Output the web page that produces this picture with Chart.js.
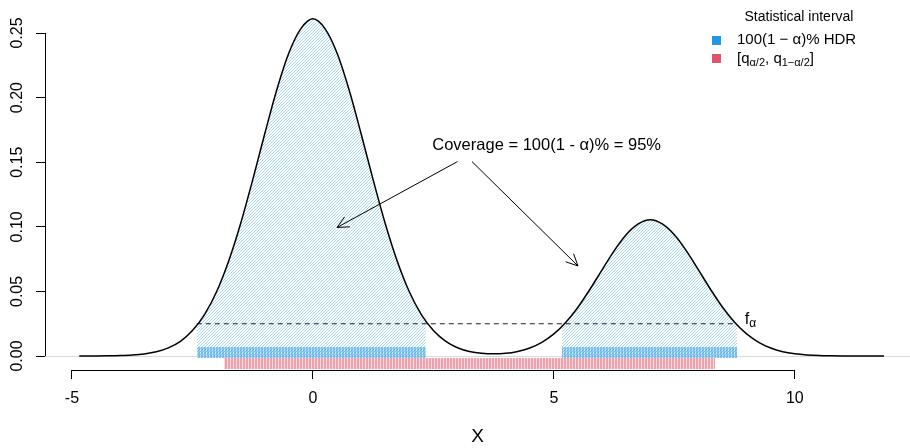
<!DOCTYPE html>
<html>
<head>
<meta charset="utf-8">
<script src="https://cdn.jsdelivr.net/npm/chart.js@4.4.1/dist/chart.umd.min.js"></script>
<style>
  html, body { margin: 0; padding: 0; background: #fff; }
  #wrap { width: 910px; height: 448px; }
</style>
</head>
<body>
<div id="wrap"><canvas id="chart" width="910" height="448"></canvas></div>
<script>
// density
const xGrid = [-4.85, -4.5, -4.25, -4, -3.75, -3.5, -3.25, -3, -2.75, -2.5, -2.25, -2, -1.75, -1.5,
  -1.25, -1, -0.75, -0.5, -0.25, 0, 0.25, 0.5, 0.75, 1, 1.25, 1.5, 1.75, 2, 2.25, 2.5, 2.75, 3,
  3.25, 3.5, 3.75, 4, 4.25, 4.5, 4.75, 5, 5.25, 5.5, 5.75, 6, 6.25, 6.5, 6.75, 7, 7.25, 7.5, 7.75,
  8, 8.25, 8.5, 8.75, 9, 9.25, 9.5, 9.75, 10, 10.25, 10.5, 10.75, 11, 11.5, 11.85];
const density = [0.00002, 0.00006, 0.00015, 0.00035, 0.00078, 0.00165, 0.0033, 0.0063, 0.0114,
  0.0197, 0.0321, 0.0498, 0.0734, 0.1026, 0.1363, 0.172, 0.2061, 0.2345, 0.2534, 0.261, 0.2534,
  0.2345, 0.2061, 0.172, 0.1363, 0.1026, 0.0734, 0.0498, 0.0321, 0.0197, 0.0115, 0.0064, 0.0035,
  0.0021, 0.0017, 0.0021, 0.0036, 0.0062, 0.0106, 0.0171, 0.0262, 0.0378, 0.0517, 0.0667, 0.0814,
  0.0938, 0.1022, 0.1055, 0.1022, 0.0938, 0.0814, 0.0667, 0.0517, 0.0378, 0.0262, 0.0171, 0.0106,
  0.0062, 0.0034, 0.0018, 0.0009, 0.0004, 0.00018, 0.00007, 0.00001, 0.0];

// intervals
const hdrLower = [-2.41, 5.17];
const hdrUpper = [2.34, 8.8];
const quantileInterval = [-1.85, 8.34];
const fAlpha = 0.025;

const xTicks = [-5, 0, 5, 10];
const yTicks = [0, 0.05, 0.1, 0.15, 0.2, 0.25];

const BLUE = "#2297E6";
const RED = "#DF536B";
const FONT = "'Liberation Sans', Arial, sans-serif";

function makePattern(w, h, paint) {
  const c = document.createElement("canvas");
  c.width = w;
  c.height = h;
  const g = c.getContext("2d");
  paint(g);
  return g.createPattern(c, "repeat");
}

const hatch = makePattern(3, 3, function (g) {
  g.strokeStyle = "#a6d7ec";
  g.lineWidth = 1;
  g.beginPath();
  g.moveTo(-1, 4); g.lineTo(4, -1);
  g.moveTo(-4, 4); g.lineTo(4, -4);
  g.moveTo(-1, 7); g.lineTo(7, -1);
  g.stroke();
});

function stripes(rgb) {
  return makePattern(3, 4, function (g) {
    g.fillStyle = "rgba(" + rgb + ",0.55)";
    g.fillRect(0, 0, 2, 4);
    g.fillStyle = "rgba(" + rgb + ",0.22)";
    g.fillRect(2, 0, 1, 4);
  });
}
const blueStripes = stripes("34,151,230");
const redStripes = stripes("223,83,107");

function drawArrow(ctx, x1, y1, x2, y2) {
  const a = Math.atan2(y2 - y1, x2 - x1);
  const len = 13, spread = Math.PI / 7;
  ctx.beginPath();
  ctx.moveTo(x1, y1);
  ctx.lineTo(x2, y2);
  ctx.moveTo(x2 - len * Math.cos(a - spread), y2 - len * Math.sin(a - spread));
  ctx.lineTo(x2, y2);
  ctx.lineTo(x2 - len * Math.cos(a + spread), y2 - len * Math.sin(a + spread));
  ctx.stroke();
}

// text with subscripts: parts = [[text, isSub], ...]
function drawRich(ctx, parts, x, y, size) {
  let cx = x;
  parts.forEach(function (p) {
    const sub = p[1];
    ctx.font = (sub ? Math.round(size * 0.72) : size) + "px " + FONT;
    ctx.fillText(p[0], cx, sub ? y + size * 0.28 : y);
    cx += ctx.measureText(p[0]).width;
  });
}

const decorPlugin = {
  id: "decor",
  beforeDatasetsDraw(chart) {
    const ctx = chart.ctx;
    const xs = chart.scales.x, ys = chart.scales.y;
    const area = chart.chartArea;
    const y0 = ys.getPixelForValue(0);

    // zero line
    ctx.save();
    ctx.strokeStyle = "#d9d9d9";
    ctx.lineWidth = 1;
    ctx.beginPath();
    ctx.moveTo(area.left, y0 + 0.5);
    ctx.lineTo(area.right, y0 + 0.5);
    ctx.stroke();
    ctx.restore();

    // hatched HDR area under the curve
    const meta = chart.getDatasetMeta(0);
    const line = meta.dataset;
    ctx.save();
    ctx.beginPath();
    hdrLower.forEach(function (lo, i) {
      const a = xs.getPixelForValue(lo), b = xs.getPixelForValue(hdrUpper[i]);
      ctx.rect(a, area.top, b - a, y0 - area.top);
    });
    ctx.clip();
    ctx.beginPath();
    if (line.updateControlPoints) line.updateControlPoints(area, meta.indexAxis);
    line.path(ctx);
    const pts = meta.data;
    ctx.lineTo(pts[pts.length - 1].x, y0);
    ctx.lineTo(pts[0].x, y0);
    ctx.closePath();
    ctx.fillStyle = hatch;
    ctx.fill();
    ctx.restore();

    // interval bars
    ctx.save();
    hdrLower.forEach(function (lo, i) {
      const a = Math.round(xs.getPixelForValue(lo)), b = Math.round(xs.getPixelForValue(hdrUpper[i]));
      ctx.fillStyle = blueStripes;
      ctx.fillRect(a, y0 - 9, b - a, 11);
    });
    const qa = Math.round(xs.getPixelForValue(quantileInterval[0]));
    const qb = Math.round(xs.getPixelForValue(quantileInterval[1]));
    ctx.fillStyle = redStripes;
    ctx.fillRect(qa, y0 + 2, qb - qa, 11);
    ctx.restore();
  },
  afterDatasetsDraw(chart) {
    const ctx = chart.ctx;
    const xs = chart.scales.x, ys = chart.scales.y;
    const px = v => xs.getPixelForValue(v);
    const py = v => ys.getPixelForValue(v);

    ctx.save();
    ctx.fillStyle = "#000";
    ctx.strokeStyle = "#000";
    ctx.lineWidth = 1;

    ctx.font = "16.5px " + FONT;
    ctx.textAlign = "center";
    ctx.textBaseline = "middle";
    ctx.fillText("Coverage = 100(1 - \u03b1)% = 95%", px(4.85), py(0.1633));

    drawArrow(ctx, px(3.0), py(0.1505), px(0.5), py(0.0995));
    drawArrow(ctx, px(3.3), py(0.1505), px(5.5), py(0.0697));

    ctx.textAlign = "left";
    drawRich(ctx, [["f", false], ["\u03b1", true]], px(8.96), py(0.0285), 16);

    // axis lines
    ctx.beginPath();
    ctx.moveTo(px(xTicks[0]), chart.chartArea.bottom + 0.5);
    ctx.lineTo(px(xTicks[xTicks.length - 1]), chart.chartArea.bottom + 0.5);
    ctx.moveTo(chart.chartArea.left + 0.5, py(yTicks[0]));
    ctx.lineTo(chart.chartArea.left + 0.5, py(yTicks[yTicks.length - 1]));
    ctx.stroke();

    // rotated y tick labels
    ctx.font = "16px " + FONT;
    ctx.textAlign = "center";
    ctx.textBaseline = "middle";
    ys.ticks.forEach(function (t) {
      ctx.save();
      ctx.translate(18, py(t.value));
      ctx.rotate(-Math.PI / 2);
      ctx.fillText(t.value.toFixed(2), 0, 0);
      ctx.restore();
    });

    // legend
    ctx.font = "14px " + FONT;
    ctx.textAlign = "center";
    ctx.fillText("Statistical interval", 799, 17);
    ctx.fillStyle = BLUE;
    ctx.fillRect(712, 36, 9, 9);
    ctx.fillStyle = RED;
    ctx.fillRect(712, 54, 9, 9);
    ctx.fillStyle = "#000";
    ctx.textAlign = "left";
    drawRich(ctx, [["100(1 \u2212 \u03b1)% HDR", false]], 737, 40, 15);
    drawRich(ctx, [["[q", false], ["\u03b1/2", true], [", q", false], ["1\u2212\u03b1/2", true], ["]", false]], 737, 59, 15);
    ctx.restore();
  }
};

new Chart(document.getElementById("chart"), {
  type: "line",
  data: {
    datasets: [
      {
        label: "density",
        data: xGrid.map((x, i) => ({ x: x, y: density[i] })),
        borderColor: "#000",
        borderWidth: 1.5,
        pointRadius: 0,
        fill: false,
        cubicInterpolationMode: "monotone"
      },
      {
        label: "f_alpha",
        data: [{ x: hdrLower[0], y: fAlpha }, { x: hdrUpper[hdrUpper.length - 1], y: fAlpha }],
        borderColor: "#222",
        borderWidth: 1.2,
        borderDash: [5, 4],
        pointRadius: 0,
        fill: false
      }
    ]
  },
  options: {
    responsive: false,
    animation: false,
    layout: { padding: { left: 0, top: 10, right: 0, bottom: 0 } },
    plugins: { legend: { display: false }, tooltip: { enabled: false } },
    scales: {
      x: {
        type: "linear",
        min: -5.56,
        max: 12.39,
        afterBuildTicks: s => { s.ticks = xTicks.map(v => ({ value: v })); },
        afterFit: s => { s.height = 78; },
        border: { display: false },
        grid: { drawOnChartArea: false, drawTicks: true, tickLength: 9, color: "#000" },
        ticks: {
          color: "#000",
          padding: 10,
          font: { family: FONT, size: 16 },
          callback: v => String(v)
        },
        title: {
          display: true,
          text: "X",
          color: "#000",
          padding: { top: 0, bottom: 0 },
          font: { family: FONT, size: 19 }
        }
      },
      y: {
        min: -0.0108,
        max: 0.2678,
        afterBuildTicks: s => { s.ticks = yTicks.map(v => ({ value: v })); },
        afterFit: s => { s.width = 45; },
        border: { display: false },
        grid: { drawOnChartArea: false, drawTicks: true, tickLength: 9, color: "#000" },
        ticks: { display: false }
      }
    }
  },
  plugins: [decorPlugin]
});
</script>
</body>
</html>
